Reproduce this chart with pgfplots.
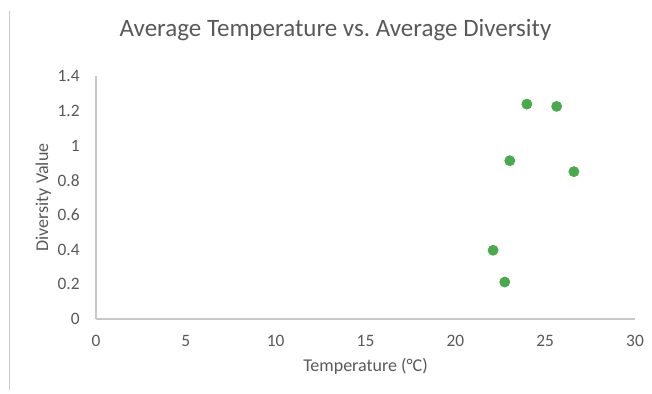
\documentclass[border=0pt]{standalone}
\usepackage{fontspec}
\setmainfont{Carlito}
\usepackage{pgfplots}
\pgfplotsset{compat=1.18}
\definecolor{txt}{RGB}{89,89,89}
\definecolor{axl}{RGB}{200,200,200}
\definecolor{pt}{RGB}{76,168,78}
\begin{document}
\begin{tikzpicture}[x=1pt,y=1pt]
\path[use as bounding box] (0,0) rectangle (326,196.5);
\draw[axl,line width=0.5pt] (4.75,1.5) -- (4.75,191);
\begin{axis}[
  at={(48pt,37pt)}, anchor=origin,
  scale only axis, width=269.5pt, height=121.5pt,
  xmin=0, xmax=30, ymin=0, ymax=1.4,
  xtick={0,5,...,30}, ytick={0,0.2,...,1.4},
  yticklabels={0,0.2,0.4,0.6,0.8,1,1.2,1.4},
  axis x line*=bottom, axis y line*=left,
  axis line style={axl, line width=0.6pt, -},
  major tick length=0pt,
  tick label style={font=\fontsize{8.7}{9}\selectfont, text=txt, inner sep=0pt},
  /pgf/number format/assume math mode=true,
  xticklabel style={anchor=base, yshift=-13.85pt},
  yticklabel style={anchor=east, xshift=-8pt},
  xlabel={Temperature (°C)},
  ylabel={Diversity Value},
  label style={font=\fontsize{9}{10}\selectfont, text=txt, inner sep=0pt},
  xlabel style={at={(axis description cs:0.5,-0.214)}, anchor=base},
  ylabel style={at={(axis description cs:-0.089,0.5)}, anchor=base},
  title={Average Temperature vs.\ Average Diversity},
  title style={font=\fontsize{12.5}{14}\selectfont, text=txt, inner sep=0pt,
    at={(axis description cs:0.4443,1.1152)}, anchor=base},
  clip=false,
]
\addplot[only marks, mark=*, mark size=2.5pt, mark options={fill=pt, draw=pt}]
  coordinates {(23.98,1.238) (25.64,1.225) (23.03,0.912) (26.6,0.849) (22.1,0.396) (22.75,0.213)};
\end{axis}
\end{tikzpicture}
\end{document}
